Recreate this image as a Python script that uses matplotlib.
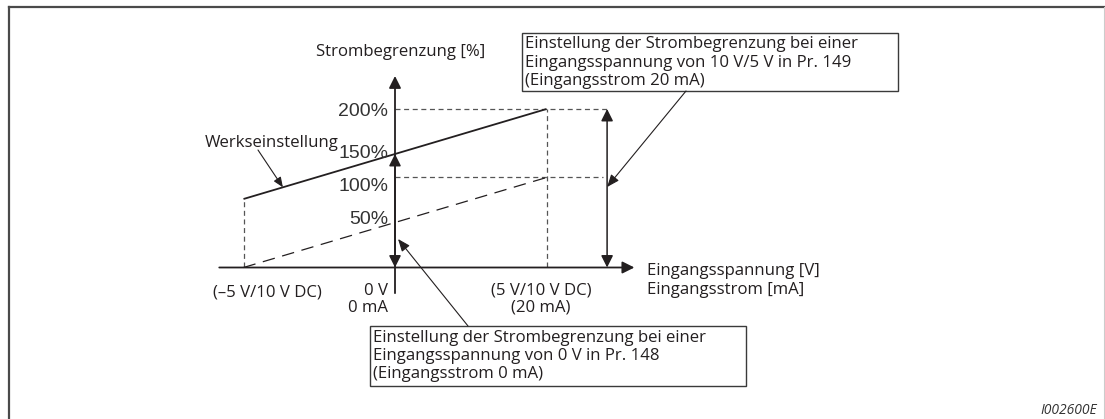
import matplotlib
matplotlib.use("Agg")
import matplotlib.pyplot as plt
from matplotlib.patches import Rectangle
from matplotlib.lines import Line2D
import numpy as np

# Input voltage [V] at the three marked points of the characteristic
volts = [-5, 0, 5]
# Current limit [%] of the factory setting and of an adjusted setting
factory_pct = [100, 150, 200]
custom_pct = [0, 50, 100]
# Level labels on the vertical axis
level_values = [200, 150, 100, 50]
level_labels = ["200%", "150%", "100%", "50%"]
level_on_factory = [True, True, False, False]

W, H = 1105, 419
PX_PER_V = 30.3
PX_PER_PCT = 0.9
ORIGIN = (395, 267.5)
# the factory curve is drawn a bit lower than to scale
FACTORY_DROP = 21.5 / PX_PER_PCT

INK = "#231f20"
GUIDE = "#555555"
TEXT = "#231f20"
BODY_FONT = "Open Sans"
NUM_FONT = "Liberation Sans"

plt.rcParams["lines.scale_dashes"] = False
plt.rcParams["font.family"] = BODY_FONT

fig = plt.figure(figsize=(W / 100, H / 100), dpi=100)
ax = fig.add_axes([0, 0, 1, 1])
ax.set_axis_off()
ax.set_xlim(-ORIGIN[0] / PX_PER_V, (W - ORIGIN[0]) / PX_PER_V)
ax.set_ylim((ORIGIN[1] - H) / PX_PER_PCT, ORIGIN[1] / PX_PER_PCT)

body_texts = []


def page(x, y):
    # page position in pixels from the top left corner -> axes fraction
    return (x / W, 1 - y / H)


def put(x, y, s, **kw):
    kw.setdefault("fontsize", 11)
    kw.setdefault("color", TEXT)
    kw.setdefault("va", "baseline")
    t = ax.text(*page(x, y), s, transform=ax.transAxes, **kw)
    body_texts.append(t)
    return t


def arrow(tip, tail, style="-|>", lw=1.1, hl=0.72, hw=0.36,
          tipcoords="data", tailcoords="data"):
    ax.annotate("", xy=tip, xycoords=tipcoords, xytext=tail, textcoords=tailcoords,
                arrowprops=dict(arrowstyle=f"{style},head_length={hl},head_width={hw}",
                                mutation_scale=10, lw=lw, color=INK,
                                shrinkA=0, shrinkB=0))


factory_y = np.array(factory_pct) - FACTORY_DROP
top_y = factory_y[-1]
mid_y = factory_y[1]
span_x = 7.0

# guide lines
guide = dict(color=GUIDE, lw=0.9, dashes=(3.6, 2.6))
ax.plot([volts[0], volts[0]], [0, factory_y[0]], **guide)
ax.plot([volts[-1], volts[-1]], [0, top_y], **guide)
ax.plot([0, span_x], [top_y, top_y], **guide)
ax.plot([0, span_x - 0.15], [custom_pct[-1], custom_pct[-1]], **guide)

# characteristics
ax.plot(volts, factory_y, color=INK, lw=1.3, solid_capstyle="butt")
ax.plot(volts, custom_pct, color=INK, lw=0.9, dashes=(9, 5.5))

# axes with arrow heads
arrow((7.9, 0), (-5.8, 0), lw=1.3)
arrow((0, 212.8), (0, -28.5), lw=1.3)

# setting ranges
arrow((span_x, top_y), (span_x, 0), style="<|-|>", lw=1.1)
arrow((0, mid_y), (0, 0), style="<|-|>", lw=1.1)

# level labels
level_texts = []
level_dy = [-7.5, -4, -14, -1]
for val, lab, fac, dy in zip(level_values, level_labels, level_on_factory, level_dy):
    y = val - FACTORY_DROP if fac else val
    t = ax.annotate(lab, xy=(0, y), xytext=(-7, dy), textcoords="offset pixels",
                    ha="right", va="baseline", fontsize=13.5, color="#333333",
                    family=NUM_FONT)
    level_texts.append(t)

# axis titles
put(316, 56, "Strombegrenzung [%]")
put(647, 275, "Eingangsspannung [V]")
put(647, 294, "Eingangsstrom [mA]")

# input range labels
put(267, 296, "(–5 V/10 V DC)", ha="center")
put(388, 295, "0 V", ha="right")
put(388, 312, "0 mA", ha="right")
put(541, 294, "(5 V/10 V DC)", ha="center")
put(541, 311, "(20 mA)", ha="center")

# factory setting callout
put(205, 147, "Werkseinstellung")
arrow((-3.7, 100 + 1.3 * 10 - FACTORY_DROP), page(258, 150), lw=0.8, hl=0.6, hw=0.25,
      tailcoords=ax.transAxes)


# note boxes
def note(left, top, lines, width=376, height=59):
    ax.add_patch(Rectangle(page(left, top + height), width / W, height / H,
                           transform=ax.transAxes, fill=False, lw=1.0,
                           edgecolor="#3a3a3a"))
    out = []
    for i, line in enumerate(lines):
        out.append(put(left + 3, top + 15.5 + 18.4 * i, line))
    return out


box_lines = note(522, 33, ["Einstellung der Strombegrenzung bei einer",
                           "Eingangsspannung von 10 V/5 V in Pr. 149",
                           "(Eingangsstrom 20 mA)"], height=58)
arrow((span_x, (ORIGIN[1] - 187) / PX_PER_PCT), page(686, 91), lw=0.8, hl=0.75, hw=0.3,
      tailcoords=ax.transAxes)

note(370, 326, ["Einstellung der Strombegrenzung bei einer",
                "Eingangsspannung von 0 V in Pr. 148",
                "(Eingangsstrom 0 mA)"], height=60)
arrow((0.1, (ORIGIN[1] - 239) / PX_PER_PCT), page(468, 326), lw=0.8, hl=0.75, hw=0.3,
      tailcoords=ax.transAxes)

# size the body text so a full box line runs 335 px, the level labels 50 px
fig.canvas.draw()
body_size = 11 * 335 / box_lines[0].get_window_extent().width
for t in body_texts:
    t.set_fontsize(body_size)
level_size = 13.5 * 50 / level_texts[0].get_window_extent().width
for t in level_texts:
    t.set_fontsize(level_size)

# figure number
put(1097, 414, "I002600E", ha="right", fontsize=10, style="italic", color="#333333")

# page frame
fig.add_artist(Line2D([9 / W, 1104 / W], [1 - 7 / H, 1 - 7 / H], color="#4a4a4a", lw=1.6))
fig.add_artist(Line2D([9 / W, 9 / W], [1 - 7 / H, 0], color="#4a4a4a", lw=1.6))
fig.add_artist(Line2D([1104 / W, 1104 / W], [1 - 7 / H, 0], color="#cccccc", lw=0.8))

fig.savefig("out.png", dpi=100)
